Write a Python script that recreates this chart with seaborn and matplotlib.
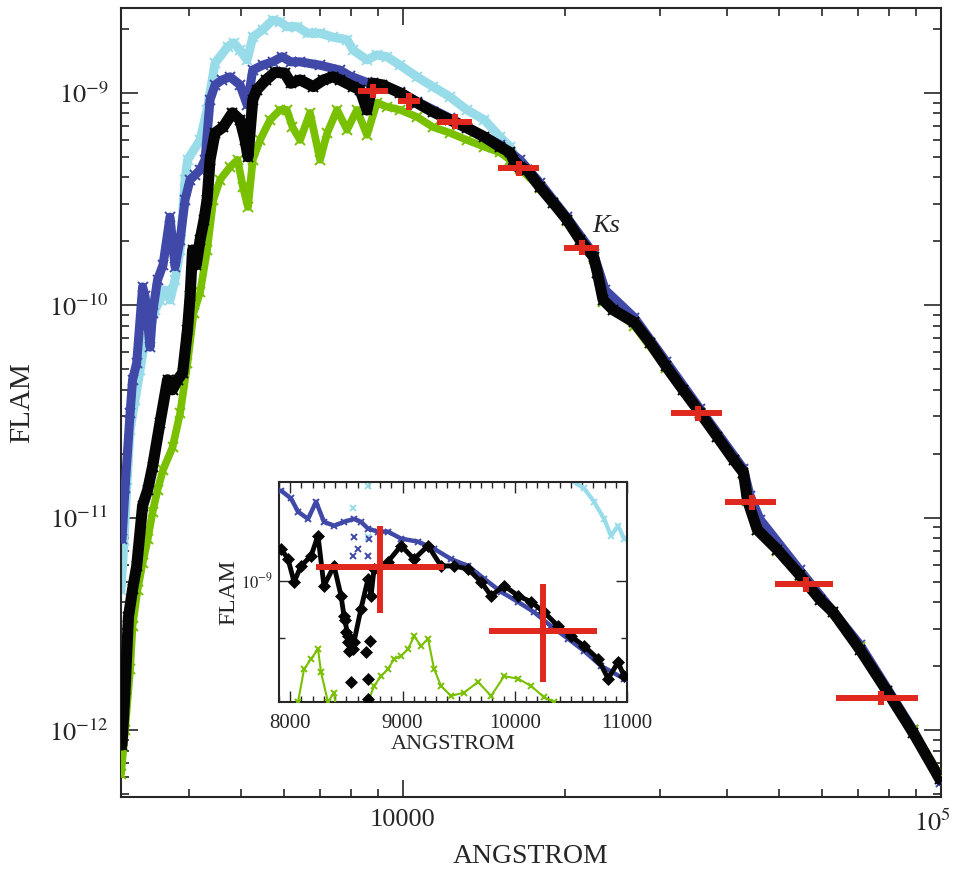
import matplotlib
matplotlib.use('Agg')
import matplotlib.pyplot as plt
import matplotlib.transforms as mtransforms
import seaborn as sns
from matplotlib.ticker import FixedLocator, NullFormatter, MultipleLocator

# ---------------- data ----------------
black_wave = [3003, 3043, 3087, 3142, 3198, 3280, 3352, 3423, 3534, 3650, 3728, 3810, 3893, 3975, 4019, 4062,
              4127, 4195, 4267, 4323, 4378, 4473, 4630, 4818, 4977, 5085, 5150, 5256, 5346, 5563, 5780, 6026,
              6186, 6436, 6813, 7112, 7413, 7637, 8080, 8320, 8570, 8790, 9158, 9872, 10617, 11370, 12229,
              13140, 14170, 15148, 15810, 16030, 16500, 17000, 17970, 19010, 20160, 21330, 22600, 22980,
              23540, 24570, 26920, 28780, 30840, 33140, 35650, 38350, 41150, 42930, 43660, 45540, 49630,
              54700, 59590, 62960, 70710, 79400, 88800, 99560]
black_flux = [8.5e-13, 1.55e-12, 3.4e-12, 4.6e-12, 5.9e-12, 1.14e-11, 1.35e-11, 1.74e-11, 2.8e-11, 4.46e-11,
              4.0e-11, 4.46e-11, 4.8e-11, 7.67e-11, 1.1e-10, 1.82e-10, 1.55e-10, 2.03e-10, 2.53e-10, 3.14e-10,
              4.84e-10, 6.48e-10, 6.9e-10, 8.05e-10, 7.46e-10, 6.0e-10, 5.0e-10, 9.27e-10, 1.033e-9, 1.151e-9,
              1.25e-9, 1.24e-9, 1.11e-9, 1.151e-9, 1.07e-9, 1.151e-9, 1.19e-9, 1.151e-9, 1.07e-9, 1.033e-9,
              8.3e-10, 1.11e-9, 1.09e-9, 1.0e-9, 8.98e-10, 8.14e-10, 7.46e-10, 6.85e-10, 6.2e-10, 5.57e-10,
              5.24e-10, 4.84e-10, 4.5e-10, 4.34e-10, 3.6e-10, 3.04e-10, 2.53e-10, 2.03e-10, 1.69e-10, 1.42e-10,
              1.061e-10, 9.52e-11, 8.3e-11, 6.67e-11, 5.15e-11, 4.0e-11, 3.12e-11, 2.41e-11, 1.875e-11,
              1.63e-11, 1.215e-11, 8.78e-12, 7.07e-12, 5.35e-12, 4.11e-12, 3.6e-12, 2.39e-12, 1.52e-12,
              9.7e-13, 5.85e-13]

blue_wave = [3003, 3043, 3109, 3142, 3198, 3280, 3315, 3387, 3423, 3497, 3580, 3688, 3769, 3851, 3934, 4019,
             4106, 4195, 4285, 4378, 4473, 4610, 4769, 4977, 5130, 5256, 5480, 5720, 5960, 6186, 6436, 7010,
             7637, 7971, 8570, 9062, 9872, 10617, 12229, 15148, 16500, 17970, 20160, 22600, 23760, 26920,
             30840, 35650, 42930, 44160, 46100, 54700, 70710, 88800, 100000]
blue_flux = [7.9e-12, 1.38e-11, 3.1e-11, 4.46e-11, 5.35e-11, 1.22e-10, 1.1e-10, 6.35e-11, 9.2e-11, 1.318e-10,
             1.55e-10, 2.6e-10, 1.52e-10, 2.03e-10, 3.14e-10, 3.9e-10, 4.1e-10, 4.34e-10, 4.84e-10, 9.27e-10,
             1.09e-9, 1.151e-9, 1.19e-9, 1.09e-9, 8.8e-10, 1.28e-9, 1.35e-9, 1.4e-9, 1.48e-9, 1.4e-9, 1.4e-9,
             1.35e-9, 1.28e-9, 1.2e-9, 1.12e-9, 1.09e-9, 1.01e-9, 9.1e-10, 7.6e-10, 5.7e-10, 4.84e-10,
             3.77e-10, 2.6e-10, 1.75e-10, 1.18e-10, 8.75e-11, 5.43e-11, 3.25e-11, 1.7e-11, 1.27e-11, 9.8e-12,
             5.65e-12, 2.52e-12, 1.0e-12, 5.7e-13]

cyan_wave = [2991, 3030, 3070, 3109, 3176, 3245, 3315, 3387, 3459, 3534, 3610, 3688, 3769, 3851, 3934, 3977,
             4195, 4323, 4473, 4720, 4843, 4977, 5130, 5256, 5480, 5720, 5907, 6080, 6360, 6650, 7010, 7413,
             7870, 8080, 8570, 8940, 9330, 9872, 10617, 11370, 12229, 13140, 14170, 15148, 15810, 16500,
             17000, 17970, 19010, 20160, 21330, 22600, 22980, 23540, 24570, 26920, 28780, 30840, 33140,
             35650, 38350, 41150, 42930, 43660, 45540, 49630, 54700, 62960, 79400, 99560]
cyan_flux = [4.58e-12, 7.88e-12, 1.51e-11, 2.59e-11, 3.59e-11, 4.97e-11, 6.88e-11, 7.67e-11, 9.5e-11, 1.06e-10,
             1.18e-10, 1.06e-10, 1.32e-10, 1.82e-10, 3.9e-10, 4.84e-10, 6.0e-10, 8.3e-10, 1.38e-9, 1.65e-9,
             1.72e-9, 1.59e-9, 1.43e-9, 1.83e-9, 1.98e-9, 2.2e-9, 2.16e-9, 2.05e-9, 2.05e-9, 1.91e-9, 1.91e-9,
             1.83e-9, 1.78e-9, 1.59e-9, 1.43e-9, 1.51e-9, 1.48e-9, 1.35e-9, 1.19e-9, 1.07e-9, 9.57e-10,
             8.32e-10, 7.46e-10, 6.2e-10, 5.57e-10, 4.5e-10, 4.34e-10, 3.6e-10, 3.04e-10, 2.53e-10, 2.03e-10,
             1.69e-10, 1.42e-10, 1.061e-10, 9.52e-11, 8.3e-11, 6.67e-11, 5.15e-11, 4.0e-11, 3.12e-11,
             2.41e-11, 1.875e-11, 1.63e-11, 1.215e-11, 8.78e-12, 7.07e-12, 5.35e-12, 3.6e-12, 1.52e-12,
             5.85e-13]

green_wave = [2991, 3043, 3109, 3142, 3210, 3280, 3352, 3423, 3497, 3580, 3728, 3851, 3975, 4080, 4195, 4323,
              4440, 4570, 4769, 4925, 5040, 5150, 5256, 5423, 5659, 5907, 6080, 6230, 6436, 6716, 7010, 7230,
              7540, 7870, 8210, 8570, 8940, 9330, 9872, 10617, 11370, 12229, 13140, 14170, 15148, 15810,
              16500, 17970, 20160, 22600, 23540, 26920, 30840, 35650, 42930, 43660, 45540, 49630, 54700,
              70710, 88800, 100000]
green_flux = [6.2e-13, 1.0e-12, 1.93e-12, 3.1e-12, 4.58e-12, 6.1e-12, 7.9e-12, 1.06e-11, 1.35e-11, 1.68e-11,
              2.14e-11, 3.1e-11, 5.35e-11, 9.2e-11, 1.15e-10, 1.82e-10, 3.14e-10, 3.9e-10, 4.48e-10, 4.84e-10,
              3.6e-10, 2.9e-10, 4.84e-10, 6.0e-10, 7.46e-10, 8.32e-10, 8.32e-10, 6.9e-10, 6.0e-10, 8.05e-10,
              4.84e-10, 6.48e-10, 8.32e-10, 6.7e-10, 8.32e-10, 6.34e-10, 9.0e-10, 8.6e-10, 8.32e-10, 7.7e-10,
              6.9e-10, 6.48e-10, 6.0e-10, 5.57e-10, 5.24e-10, 4.84e-10, 4.4e-10, 3.57e-10, 2.48e-10, 1.66e-10,
              1.04e-10, 8.0e-11, 5.05e-11, 3.06e-11, 1.6e-11, 1.2e-11, 8.7e-12, 7.0e-12, 5.3e-12,
              2.45e-12, 1.0e-12, 6.0e-13]

# photometry (red crosses)
phot_wave = [8800, 10250, 12500, 16450, 21500, 35300, 44500, 56100, 77300]
phot_flux = [1.025e-9, 9.12e-10, 7.33e-10, 4.42e-10, 1.87e-10, 3.11e-11, 1.18e-11, 4.88e-12, 1.42e-12]
phot_werr = [570, 480, 940, 1450, 1600, 3800, 4900, 7000, 13500]
phot_ferr = [8.2e-11, 8.2e-11, 5.9e-11, 3.5e-11, 1.5e-11, 2.5e-12, 9.4e-13, 3.9e-13, 1.1e-13]

# inset (zoom 7900-11000 A)
in_black_wave = [7918, 7980, 8034, 8096, 8185, 8247, 8300, 8390, 8452, 8479, 8515, 8541, 8568, 8630, 8693,
                 8720, 8746, 8870, 8987, 9103, 9227, 9343, 9459, 9584, 9700, 9789, 9905, 10029, 10145, 10261,
                 10386, 10501, 10617, 10742, 10831, 10920, 10973]
in_black_flux = [1.061e-9, 1.041e-9, 0.998e-9, 1.028e-9, 1.047e-9, 1.087e-9, 0.991e-9, 1.028e-9, 0.973e-9,
                 0.937e-9, 0.903e-9, 0.882e-9, 0.894e-9, 0.950e-9, 1.004e-9, 0.973e-9, 1.022e-9, 1.036e-9,
                 1.067e-9, 1.041e-9, 1.067e-9, 1.028e-9, 1.028e-9, 1.022e-9, 0.998e-9, 0.973e-9, 0.991e-9,
                 0.973e-9, 0.962e-9, 0.944e-9, 0.920e-9, 0.903e-9, 0.887e-9, 0.866e-9, 0.835e-9, 0.861e-9,
                 0.839e-9]
in_black_dip_wave = [8490, 8497, 8515, 8522, 8559, 8541, 8675, 8711, 8690, 8693]
in_black_dip_flux = [0.93e-9, 0.91e-9, 0.894e-9, 0.879e-9, 0.882e-9, 0.83e-9, 0.877e-9, 0.895e-9, 0.835e-9, 0.804e-9]

in_blue_wave = [7918, 8007, 8069, 8158, 8230, 8300, 8390, 8479, 8568, 8630, 8693, 8782, 8870, 8987, 9138,
                9281, 9432, 9584, 9727, 9878, 10029, 10172, 10323, 10474, 10617, 10768, 10973]
in_blue_flux = [1.181e-9, 1.164e-9, 1.136e-9, 1.121e-9, 1.157e-9, 1.115e-9, 1.107e-9, 1.115e-9, 1.121e-9,
                1.115e-9, 1.101e-9, 1.095e-9, 1.095e-9, 1.081e-9, 1.075e-9, 1.061e-9, 1.041e-9, 1.028e-9,
                1.004e-9, 0.980e-9, 0.962e-9, 0.944e-9, 0.920e-9, 0.899e-9, 0.879e-9, 0.855e-9, 0.835e-9]
in_blue_dip_wave = [8560, 8600, 8568, 8693, 8700]
in_blue_dip_flux = [1.047e-9, 1.061e-9, 1.085e-9, 1.047e-9, 1.081e-9]

in_green_wave = [7950, 8069, 8123, 8185, 8247, 8274, 8336, 8390, 8480, 8600, 8693, 8746, 8809, 8870, 8925,
                 8987, 9049, 9103, 9165, 9227, 9281, 9343, 9432, 9548, 9673, 9789, 9905, 10029, 10145, 10261,
                 10350, 10617, 10973]
in_green_flux = [0.72e-9, 0.80e-9, 0.850e-9, 0.866e-9, 0.882e-9, 0.845e-9, 0.80e-9, 0.814e-9, 0.70e-9,
                 0.66e-9, 0.80e-9, 0.824e-9, 0.839e-9, 0.850e-9, 0.866e-9, 0.871e-9, 0.882e-9, 0.903e-9,
                 0.887e-9, 0.899e-9, 0.850e-9, 0.824e-9, 0.809e-9, 0.814e-9, 0.830e-9, 0.809e-9, 0.839e-9,
                 0.835e-9, 0.824e-9, 0.807e-9, 0.80e-9, 0.77e-9, 0.74e-9]

in_cyan_wave = [10380, 10474, 10617, 10706, 10795, 10857, 10920, 10973]
in_cyan_flux = [1.23e-9, 1.208e-9, 1.186e-9, 1.157e-9, 1.121e-9, 1.087e-9, 1.107e-9, 1.081e-9]
in_cyan_dip_wave = [8560, 8693, 8693]
in_cyan_dip_flux = [1.143e-9, 1.19e-9, 1.085e-9]

main_yticks = [1e-12, 1e-11, 1e-10, 1e-9]
main_ytick_labels = [r'$10^{-12}$', r'$10^{-11}$', r'$10^{-10}$', r'$10^{-9}$']
main_xticks = [1e4, 1e5]
main_xtick_labels = ['10000', r'$10^5$']
inset_xticks = [8000, 9000, 10000, 11000]

# ---------------- style ----------------
C_CYAN = '#98dcea'
C_BLUE = '#4049a8'
C_BLACK = '#050505'
C_GREEN = '#78c000'
C_RED = '#e0281e'

sns.set_theme(style='ticks')
plt.rcParams['font.family'] = ['Liberation Serif', 'DejaVu Serif']
plt.rcParams['mathtext.fontset'] = 'stix'
plt.rcParams['axes.linewidth'] = 1.5

fig = plt.figure(figsize=(9.54, 8.69), dpi=100)
ax = fig.add_axes([0.1268, 0.0829, 0.8596, 0.9079])
ax.set_xscale('log')
ax.set_yscale('log')


def draw(a, w, f, color, lw, ms, marker='x', mew=1.4, z=2, ls='-'):
    sns.lineplot(x=w, y=f, ax=a, color=color, lw=lw, ls=ls, marker=marker, ms=ms, mec=color, mfc=color,
                 mew=mew, sort=False, estimator=None, zorder=z, legend=False)


draw(ax, cyan_wave, cyan_flux, C_CYAN, 6.5, 7, z=2)
draw(ax, blue_wave, blue_flux, C_BLUE, 6.5, 7, z=3)
draw(ax, green_wave, green_flux, C_GREEN, 5.5, 7, z=4)
draw(ax, black_wave, black_flux, C_BLACK, 8, 7, z=5)
ax.errorbar(phot_wave, phot_flux, xerr=phot_werr, yerr=phot_ferr, fmt='none', ecolor=C_RED,
            elinewidth=4.3, capsize=0, zorder=6)

ax.text(23840, 2.37e-10, 'Ks', style='italic', fontsize=19, ha='center', va='center')

ax.set_xlim(2990, 100000)
ax.set_ylim(4.84e-13, 2.51e-9)
ax.xaxis.set_major_locator(FixedLocator(main_xticks))
ax.set_xticklabels(main_xtick_labels)
ax.xaxis.set_minor_locator(FixedLocator([4000, 5000, 6000, 7000, 8000, 9000, 20000, 30000, 40000, 50000,
                                         60000, 70000, 80000, 90000]))
ax.xaxis.set_minor_formatter(NullFormatter())
ax.yaxis.set_major_locator(FixedLocator(main_yticks))
ax.set_yticklabels(main_ytick_labels)
ax.yaxis.set_minor_locator(FixedLocator([m * 10.0 ** e for e in range(-13, -8) for m in range(2, 10)]))
ax.yaxis.set_minor_formatter(NullFormatter())
ax.tick_params(which='both', direction='in', top=True, right=True, labelsize=19, width=1.2)
ax.tick_params(which='major', length=12, pad=9)
ax.tick_params(which='minor', length=6)
ax.set_xlabel('ANGSTROM', fontsize=20, labelpad=6)
ax.set_ylabel('FLAM', fontsize=21, labelpad=10)

# keep the 10^5 label inside the figure, as in the reference
lab5 = ax.get_xticklabels()[1]
lab5.set_horizontalalignment('right')
lab5.set_transform(lab5.get_transform() + mtransforms.ScaledTranslation(10 / 100, 0, fig.dpi_scale_trans))

# ---------------- inset ----------------
axin = fig.add_axes([0.2925, 0.1922, 0.3648, 0.2532])
axin.set_yscale('log')
draw(axin, in_cyan_wave, in_cyan_flux, C_CYAN, 3, 4, z=2)
draw(axin, in_cyan_dip_wave, in_cyan_dip_flux, C_CYAN, 0, 4, z=2, ls='none')
draw(axin, in_blue_wave, in_blue_flux, C_BLUE, 3.2, 4.5, z=3)
draw(axin, in_blue_dip_wave, in_blue_dip_flux, C_BLUE, 0, 4, z=3, ls='none')
draw(axin, in_green_wave, in_green_flux, C_GREEN, 1.5, 4.5, z=4)
draw(axin, in_black_wave, in_black_flux, C_BLACK, 3.5, 6, marker='D', mew=0.5, z=5)
draw(axin, in_black_dip_wave, in_black_dip_flux, C_BLACK, 0, 6, marker='D', mew=0.5, z=5, ls='none')
axin.errorbar(phot_wave, phot_flux, xerr=phot_werr, yerr=phot_ferr, fmt='none', ecolor=C_RED,
              elinewidth=4.3, capsize=0, zorder=6)
axin.set_xlim(7900, 11000)
axin.set_ylim(8e-10, 1.2e-9)
axin.xaxis.set_major_locator(FixedLocator(inset_xticks))
axin.xaxis.set_minor_locator(MultipleLocator(100))
axin.yaxis.set_major_locator(FixedLocator([1e-9]))
axin.set_yticklabels([r'$10^{-9}$'])
axin.yaxis.set_minor_locator(FixedLocator([9e-10]))
axin.yaxis.set_minor_formatter(NullFormatter())
axin.tick_params(which='both', direction='in', top=True, right=True, width=1.0)
axin.tick_params(axis='x', labelsize=15, pad=9)
axin.tick_params(axis='y', labelsize=12, pad=4)
axin.tick_params(which='major', length=8)
axin.tick_params(which='minor', length=4)
axin.set_xlabel('ANGSTROM', fontsize=16, labelpad=1)
axin.set_ylabel('FLAM', fontsize=17, labelpad=1)

fig.savefig('out.png', dpi=100)
